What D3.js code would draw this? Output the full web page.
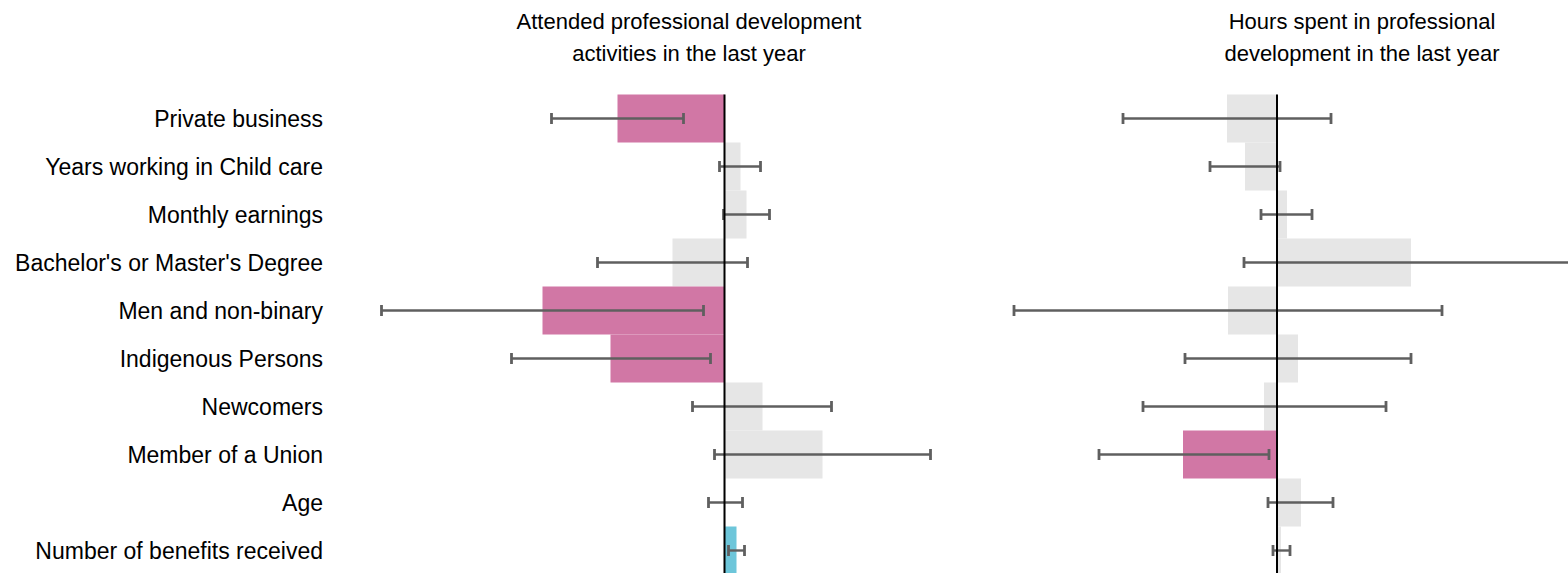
<!DOCTYPE html>
<html>
<head>
<meta charset="utf-8">
<script src="https://cdn.jsdelivr.net/npm/d3@7/dist/d3.min.js"></script>
<style>
  html, body { margin: 0; padding: 0; background: #fff; overflow: hidden; }
  svg { display: block; }
  text { font-family: "Liberation Sans", Arial, sans-serif; fill: #000; }
</style>
</head>
<body>
<svg id="chart" width="1568" height="573"></svg>
<script>
// ---- data ----
const categories = [
  "Private business",
  "Years working in Child care",
  "Monthly earnings",
  "Bachelor's or Master's Degree",
  "Men and non-binary",
  "Indigenous Persons",
  "Newcomers",
  "Member of a Union",
  "Age",
  "Number of benefits received"
];
const panelTitles = [
  ["Attended professional development", "activities in the last year"],
  ["Hours spent in professional", "development in the last year"]
];
// Panel 1: attended PD (change in probability)
const attendEst  = [-0.107, 0.016, 0.022, -0.052, -0.182, -0.114, 0.038, 0.098, 0.001, 0.012];
const attendLow  = [-0.173, -0.005, -0.001, -0.127, -0.343, -0.213, -0.032, -0.010, -0.016, 0.004];
const attendHigh = [-0.041, 0.036, 0.045, 0.023, -0.021, -0.014, 0.107, 0.206, 0.018, 0.020];
// Panel 2: hours spent in PD
const hoursEst  = [-5.0, -3.2, 1.0, 13.4, -4.9, 2.1, -1.3, -9.4, 2.4, 0.4];
const hoursLow  = [-15.4, -6.7, -1.6, -3.3, -26.3, -9.2, -13.4, -17.8, -0.9, -0.4];
const hoursHigh = [5.4, 0.3, 3.5, 30.0, 16.5, 13.4, 10.9, -0.8, 5.6, 1.3];

// ---- layout ----
const svg = d3.select("#chart");
const NEG = "#d177a5", POS = "#6dc6da", NS = "#e6e6e6", ERR = "#5f5f5f";

const y = d3.scaleBand().domain(categories).range([94.5, 574.5]).paddingInner(0).paddingOuter(0);

const panels = [
  { title: panelTitles[0], est: attendEst, low: attendLow, high: attendHigh,
    x: d3.scaleLinear().domain([-0.35, 0.22]).range([374.5, 944.5]), titleX: 689 },
  { title: panelTitles[1], est: hoursEst, low: hoursLow, high: hoursHigh,
    x: d3.scaleLinear().domain([-27, 30]).range([1007, 1577]), titleX: 1362 }
];

// category labels
svg.append("g").selectAll("text").data(categories).join("text")
  .attr("x", 323)
  .attr("y", d => y(d) + y.bandwidth() / 2)
  .attr("text-anchor", "end")
  .attr("dominant-baseline", "central")
  .style("font-size", "23px")
  .text(d => d);

panels.forEach(p => {
  const g = svg.append("g");
  const rows = categories.map((c, i) => ({ c, est: p.est[i], low: p.low[i], high: p.high[i] }));
  const color = d => d.low > 0 ? POS : (d.high < 0 ? NEG : NS);

  // title
  const t = g.append("text").attr("x", p.titleX).attr("y", 29)
    .attr("text-anchor", "middle").style("font-size", "22px");
  p.title.forEach((line, i) => {
    t.append("tspan").attr("x", p.titleX).attr("dy", i === 0 ? 0 : 32).text(line);
  });

  // bars
  g.append("g").selectAll("rect").data(rows).join("rect")
    .attr("x", d => p.x(Math.min(0, d.est)))
    .attr("width", d => Math.abs(p.x(d.est) - p.x(0)))
    .attr("y", d => y(d.c))
    .attr("height", y.bandwidth())
    .attr("fill", color);

  // error bars
  const eg = g.append("g").attr("stroke", ERR).attr("stroke-width", 2.4);
  rows.forEach(d => {
    const cy = y(d.c) + y.bandwidth() / 2;
    eg.append("line").attr("x1", p.x(d.low)).attr("x2", p.x(d.high)).attr("y1", cy).attr("y2", cy);
    [d.low, d.high].forEach(v => {
      eg.append("line").attr("x1", p.x(v)).attr("x2", p.x(v)).attr("y1", cy - 5.5).attr("y2", cy + 5.5)
        .attr("stroke-width", 2.8);
    });
  });

  // zero line
  g.append("line")
    .attr("x1", p.x(0)).attr("x2", p.x(0))
    .attr("y1", y.range()[0]).attr("y2", y.range()[1])
    .attr("stroke", "#000").attr("stroke-width", 2);
});
</script>
</body>
</html>
